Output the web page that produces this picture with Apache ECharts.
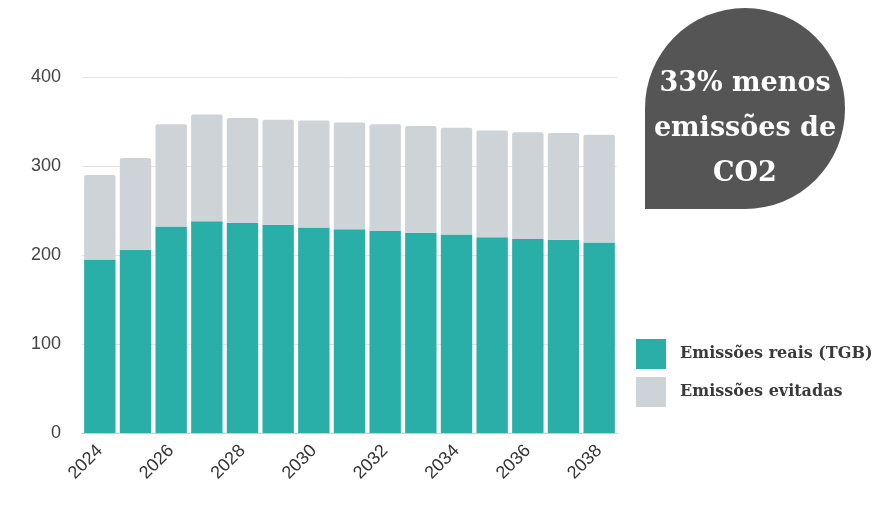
<!DOCTYPE html>
<html>
<head>
<meta charset="utf-8">
<script src="https://cdn.jsdelivr.net/npm/echarts@6/dist/echarts.min.js"></script>
<style>
  html, body { margin: 0; padding: 0; background: #fff; }
  #chart { width: 885px; height: 522px; }
</style>
</head>
<body>
<div id="chart"></div>
<script>
// Years on the x axis
const years = ['2024', '2025', '2026', '2027', '2028', '2029', '2030', '2031',
               '2032', '2033', '2034', '2035', '2036', '2037', '2038'];

// Real emissions (bottom, teal)
const emissoesReais = [195, 206, 232, 238, 236, 234, 231, 229, 227, 225, 223, 220, 218, 217, 214];

// Avoided emissions (stacked on top, gray)
const emissoesEvitadas = [95, 103, 115, 120, 118, 118, 120, 120, 120, 120, 120, 120, 120, 120, 121];

const chart = echarts.init(document.getElementById('chart'));

const option = {
    backgroundColor: '#fff',
    animation: false,
    grid: { left: 82, right: 268, top: 77, bottom: 89 },
    legend: {
        orient: 'vertical',
        left: 631,
        top: 334,
        itemWidth: 30,
        itemHeight: 30,
        itemGap: 8,
        icon: 'rect',
        textStyle: {
            fontFamily: 'DejaVu Serif',
            fontSize: 16,
            fontWeight: 'bold',
            color: '#3a3a3a',
            padding: [0, 0, 0, 9]
        },
        data: ['Emissões reais (TGB)', 'Emissões evitadas']
    },
    xAxis: {
        type: 'category',
        data: years,
        axisTick: { show: false },
        axisLine: { lineStyle: { color: '#ccc' } },
        axisLabel: {
            interval: 1,
            rotate: 45,
            margin: 15,
            fontFamily: 'Liberation Sans',
            fontSize: 18,
            color: '#333'
        }
    },
    yAxis: {
        type: 'value',
        min: 0,
        max: 400,
        interval: 100,
        axisLine: { show: false },
        axisTick: { show: false },
        splitLine: { lineStyle: { color: '#e2e2e2' } },
        axisLabel: {
            margin: 21,
            fontFamily: 'Liberation Sans',
            fontSize: 18,
            color: '#444'
        }
    },
    series: [
        {
            name: 'Emissões reais (TGB)',
            type: 'bar',
            stack: 'total',
            barCategoryGap: '12%',
            itemStyle: { color: '#2aaea8' },
            data: emissoesReais
        },
        {
            name: 'Emissões evitadas',
            type: 'bar',
            stack: 'total',
            itemStyle: { color: '#cdd3d6', borderRadius: [2, 2, 0, 0] },
            data: emissoesEvitadas
        }
    ],
    graphic: [
        {
            type: 'rect',
            shape: { x: 645, y: 8, width: 200, height: 201, r: [100, 100, 100, 0] },
            style: { fill: '#555555' }
        },
        {
            type: 'text',
            x: 745,
            y: 129,
            style: {
                text: '33% menos\nemissões de\nCO2',
                fill: '#fff',
                fontFamily: 'DejaVu Serif',
                fontWeight: 'bold',
                fontSize: 27,
                lineHeight: 45,
                align: 'center',
                verticalAlign: 'middle'
            }
        }
    ]
};

chart.setOption(option);
</script>
</body>
</html>
